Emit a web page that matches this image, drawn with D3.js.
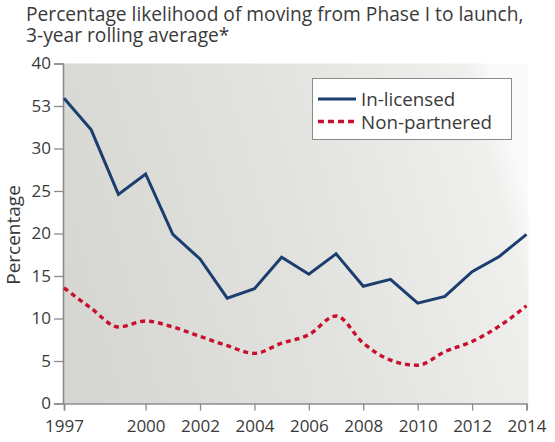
<!DOCTYPE html>
<html>
<head>
<meta charset="utf-8">
<script src="https://cdn.jsdelivr.net/npm/d3@7"></script>
<style>
  body { margin: 0; background: #fff; }
  svg { display: block; font-family: 'Open Sans', 'Noto Sans', sans-serif; }
</style>
</head>
<body>
<div id="chart"></div>
<script>
const years = [1997, 1998, 1999, 2000, 2001, 2002, 2003, 2004, 2005, 2006, 2007, 2008, 2009, 2010, 2011, 2012, 2013, 2014];
const inLicensed = [35.9, 32.2, 24.6, 27.0, 19.9, 17.0, 12.4, 13.5, 17.2, 15.2, 17.6, 13.8, 14.6, 11.8, 12.6, 15.5, 17.3, 19.9];
const nonPartnered = [13.6, 11.2, 9.0, 9.7, 9.0, 7.9, 6.8, 5.9, 7.1, 8.1, 10.3, 7.1, 5.1, 4.5, 6.1, 7.3, 9.1, 11.5];

const xTicks = [1997, 2000, 2002, 2004, 2006, 2008, 2010, 2012, 2014];
const yTicks = [0, 5, 10, 15, 20, 25, 30, 35, 40];
// the original figure prints "53" on the 35 tick
const yTickLabels = ['0', '5', '10', '15', '20', '25', '30', '53', '40'];

const titleLines = ['Percentage likelihood of moving from Phase I to launch,', '3-year rolling average*'];
const seriesNames = ['In-licensed', 'Non-partnered'];

const drawChart = (graphId) => {
  const width = 555;
  const height = 442;
  const textColor = '#3a3a3a';
  const axisColor = '#8a8a8a';
  const blue = '#1b3e6f';
  const red = '#c8102e';

  const x = d3.scaleLinear().domain([1997, 2014]).range([64, 526.5]);
  const y = d3.scaleLinear().domain([0, 40]).range([403.5, 63.5]);

  const svg = d3.select(`#${graphId}`).append('svg')
    .attr('width', width)
    .attr('height', height)
    .attr('viewBox', `0 0 ${width} ${height}`);

  const grad = svg.append('defs').append('linearGradient')
    .attr('id', 'bg')
    .attr('x1', '0%').attr('y1', '60%')
    .attr('x2', '100%').attr('y2', '40%');
  grad.append('stop').attr('offset', '0%').attr('stop-color', '#d6d6d2');
  grad.append('stop').attr('offset', '55%').attr('stop-color', '#e3e3e0');
  grad.append('stop').attr('offset', '94%').attr('stop-color', '#efefed');
  grad.append('stop').attr('offset', '100%').attr('stop-color', '#fafafa');

  svg.append('rect')
    .attr('x', x(1997) - 1)
    .attr('y', y(40))
    .attr('width', x(2014) - x(1997) + 3)
    .attr('height', y(0) - y(40))
    .attr('fill', 'url(#bg)');

  // title
  svg.append('g').selectAll('text')
    .data(titleLines)
    .join('text')
    .attr('x', 26)
    .attr('y', (d, i) => 20.5 + i * 21)
    .attr('font-size', 19.2)
    .attr('fill', textColor)
    .text(d => d);

  // axes
  const yAxis = svg.append('g')
    .attr('transform', `translate(${x(1997) - 1},0)`)
    .call(d3.axisLeft(y).tickValues(yTicks).tickFormat((d, i) => yTickLabels[i]).tickSize(9).tickPadding(3));

  const xAxis = svg.append('g')
    .attr('transform', `translate(0,${y(0)})`)
    .call(d3.axisBottom(x).tickValues(xTicks).tickFormat(d3.format('d')).tickSize(7).tickPadding(9));

  [yAxis, xAxis].forEach((axis) => {
    axis.select('.domain').attr('stroke', axisColor).attr('stroke-width', 1.6);
    axis.selectAll('.tick line').attr('stroke', axisColor).attr('stroke-width', 1.3);
    axis.selectAll('.tick text')
      .attr('fill', textColor)
      .attr('font-size', 17)
      .attr('font-family', "'Open Sans', 'Noto Sans', sans-serif");
  });

  svg.append('text')
    .attr('transform', 'translate(20,235) rotate(-90)')
    .attr('text-anchor', 'middle')
    .attr('font-size', 19)
    .attr('fill', textColor)
    .text('Percentage');

  // lines
  const solidLine = d3.line()
    .x((d, i) => x(years[i]))
    .y(d => y(d));

  const smoothLine = d3.line()
    .x((d, i) => x(years[i]))
    .y(d => y(d))
    .curve(d3.curveMonotoneX);

  svg.append('path')
    .datum(nonPartnered)
    .attr('d', smoothLine)
    .attr('fill', 'none')
    .attr('stroke', red)
    .attr('stroke-width', 3.4)
    .attr('stroke-dasharray', '5,4');

  svg.append('path')
    .datum(inLicensed)
    .attr('d', solidLine)
    .attr('fill', 'none')
    .attr('stroke', blue)
    .attr('stroke-width', 3)
    .attr('stroke-linejoin', 'miter');

  // legend
  const legend = svg.append('g');
  legend.append('rect')
    .attr('x', 312.5)
    .attr('y', 78.5)
    .attr('width', 199)
    .attr('height', 61)
    .attr('fill', '#fff')
    .attr('stroke', '#8a8a8a')
    .attr('stroke-width', 1);

  const legendRows = legend.selectAll('g.row')
    .data(seriesNames)
    .join('g')
    .attr('class', 'row')
    .attr('transform', (d, i) => `translate(0,${99 + i * 22.5})`);

  legendRows.append('line')
    .attr('x1', 318)
    .attr('x2', 356)
    .attr('stroke', (d, i) => i === 0 ? blue : red)
    .attr('stroke-width', (d, i) => i === 0 ? 3 : 3.4)
    .attr('stroke-dasharray', (d, i) => i === 0 ? null : '6,4');

  legendRows.append('text')
    .attr('x', 361)
    .attr('y', 7)
    .attr('font-size', 18.8)
    .attr('fill', textColor)
    .text(d => d);
};

drawChart('chart');
</script>
</body>
</html>
